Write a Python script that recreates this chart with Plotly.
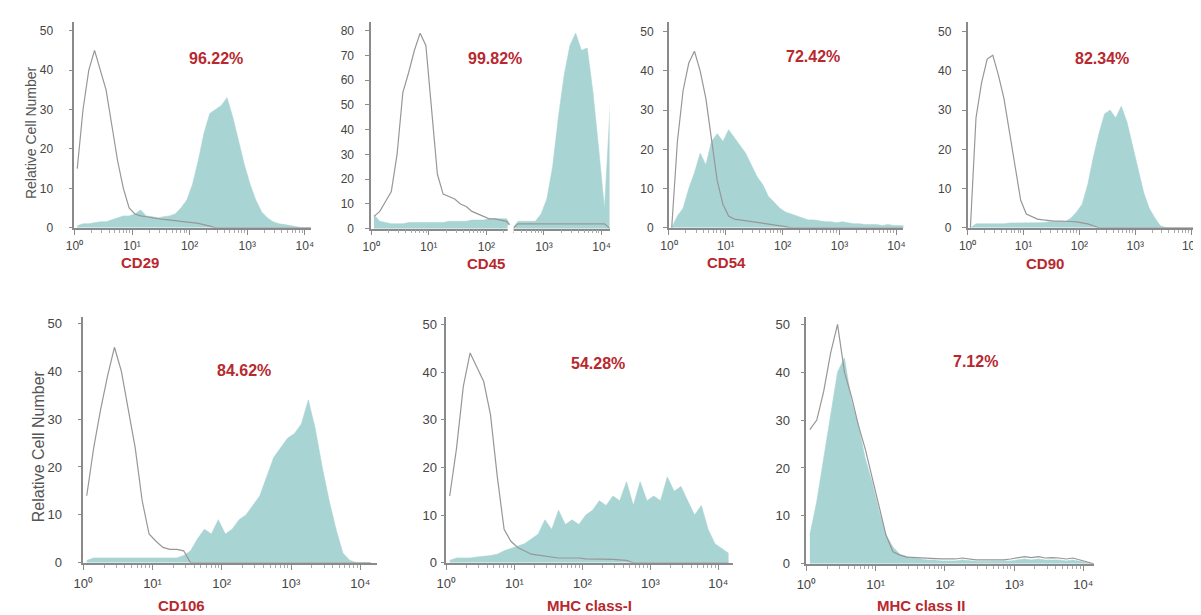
import plotly.graph_objects as go

# ---------------- data (log10 fluorescence bin centres, relative cell number) ----------------
log_bins = [0.05, 0.15, 0.25, 0.35, 0.45, 0.55, 0.65, 0.75, 0.85, 0.95,
            1.05, 1.15, 1.25, 1.35, 1.45, 1.55, 1.65, 1.75, 1.85, 1.95,
            2.05, 2.15, 2.25, 2.35, 2.45, 2.55, 2.65, 2.75, 2.85, 2.95,
            3.05, 3.15, 3.25, 3.35, 3.45, 3.55, 3.65, 3.75, 3.85, 3.95,
            4.05, 4.15]

tick_vals = [1, 10, 100, 1000, 10000]
tick_text = ["10⁰", "10¹", "10²", "10³", "10⁴"]

markers = ["CD29", "CD45", "CD54", "CD90", "CD106", "MHC class-I", "MHC class II"]
percent_positive = ["96.22%", "99.82%", "72.42%", "82.34%", "84.62%", "54.28%", "7.12%"]

cd29_iso = [15, 30, 40, 45, 40, 35, 26, 17, 10, 5, 3.5, 3, 2.8, 2.5, 2.3, 2.1, 2, 1.8, 1.6, 1.5,
            1.3, 1.1, 0.8, 0.4, 0, 0, 0, 0, 0, 0, 0, 0, 0, 0, 0, 0, 0, 0, 0, 0, 0, 0]
cd29_stain = [0.5, 1, 1, 1.2, 1.5, 1.5, 2, 2.5, 3, 3, 3.5, 4.5, 3, 2.8, 2.5, 2.8, 3, 3.5, 5, 7,
              11, 17, 24, 29, 30, 31, 33, 28, 22, 16, 11, 7, 4, 2.5, 1.5, 1, 0.8, 0.5, 0.3, 0, 0, 0]

cd45_iso = [5, 7, 11, 15, 30, 55, 63, 72, 79, 74, 48, 22, 14, 13, 12, 10, 9, 7, 6, 5,
            4, 4, 3.5, 3, 0, 2, 2, 2, 2, 2, 2, 2, 2, 2, 2, 2, 2, 2, 2, 2, 2, 0]
cd45_stain = [5.5, 3, 2.5, 2, 2, 2, 2.5, 2.5, 2.5, 2.5, 2.5, 2.5, 2.5, 3, 3, 3, 3, 3.5, 3.5, 3.5,
              4, 4, 4, 4, 0, 3, 3, 3, 3, 6, 12, 25, 45, 62, 74, 79, 72, 73, 55, 32, 8, 50]

cd54_iso = [0, 22, 35, 42, 45, 40, 33, 22, 12, 6, 3, 2.2, 2, 1.8, 1.5, 1.3, 1.2, 1, 0.7, 0.5,
            0.3, 0, 0, 0, 0, 0, 0, 0, 0, 0, 0, 0, 0, 0, 0, 0, 0, 0, 0, 0, 0, 0]
cd54_stain = [0, 3, 5, 10, 14, 19, 16, 22, 24, 22, 25, 23, 21, 19, 16, 13, 11, 8, 6.5, 5,
              4, 3.5, 3, 2.5, 2, 2, 1.8, 1.5, 1.5, 1.3, 1.5, 1.2, 1, 1, 0.8, 0.8, 0.8, 0.6, 0.8, 0.6,
              0.5, 0.5]

cd90_iso = [0, 28, 37, 43, 44, 39, 33, 24, 15, 7, 3.5, 2.8, 2.2, 2, 1.8, 1.7, 1.7, 1.7, 1.6, 1.5,
            1.3, 1, 0.5, 0, 0, 0, 0, 0, 0, 0, 0, 0, 0, 0, 0, 0, 0, 0, 0, 0, 0, 0]
cd90_stain = [0, 1, 1, 1, 1, 1, 1, 1.2, 1.2, 1.2, 1.2, 1.3, 1.3, 1.3, 1.5, 1.5, 1.5, 1.5, 2.5, 4,
              6, 11, 18, 24, 29, 30, 28, 31, 27, 21, 15, 9, 5, 2.5, 0.5, 0, 0, 0, 0, 0, 0, 0]

cd106_iso = [14, 24, 32, 39, 45, 40, 32, 24, 13, 6, 4.5, 3.2, 2.8, 2.8, 2.5, 0, 0, 0, 0, 0,
             0, 0, 0, 0, 0, 0, 0, 0, 0, 0, 0, 0, 0, 0, 0, 0, 0, 0, 0, 0, 0, 0]
cd106_stain = [0.5, 1, 1, 1, 1, 1, 1, 1, 1, 1, 1, 1, 1, 1, 1.5, 2.5, 5, 7, 6, 9,
               6, 7, 9, 10, 12, 14, 18, 22, 24, 26, 27, 29, 34, 28, 20, 13, 7, 2, 0.5, 0, 0, 0]

mhc1_iso = [14, 24, 37, 44, 41, 38, 31, 18, 7, 4.5, 3.2, 2.5, 1.8, 1.6, 1.4, 1.2, 1, 1, 1, 1,
            0.8, 0.8, 0.7, 0.7, 0.7, 0.6, 0.5, 0, 0, 0, 0, 0, 0, 0, 0, 0, 0, 0, 0, 0, 0, 0]
mhc1_stain = [0.5, 1, 1, 1, 1.2, 1.3, 1.5, 1.8, 2.5, 3, 3.5, 4, 5, 6, 9, 7, 11, 8, 9, 8,
              10, 11, 13, 12, 14, 13, 17, 12, 17, 13, 14, 13, 18, 15, 16, 13, 10, 12, 7, 4, 3, 2]

mhc2_iso = [28, 30, 36, 44, 50, 40, 35, 29, 24, 18, 12, 6, 2.5, 1.8, 1.4, 1.3, 1.2, 1.1, 1, 1,
            1, 1, 1.2, 1, 0.8, 0.8, 0.8, 0.8, 0.8, 1, 1.2, 1.5, 1.3, 1.5, 1.2, 1.3, 1.2, 1, 1.2, 0.8,
            0.5, 0]
mhc2_stain = [6, 13, 22, 31, 40, 43, 34, 29, 22, 17, 11, 6, 3.5, 2, 1.5, 1.2, 1, 0.8, 0.8, 0.6,
              0.6, 0.6, 0.8, 0.6, 0.5, 0.5, 0.5, 0.5, 0.5, 0.6, 0.8, 1, 0.8, 1, 0.8, 0.8, 0.8, 0.6, 0.8, 0.5,
              0.3, 0]

isotype_series = [cd29_iso, cd45_iso, cd54_iso, cd90_iso, cd106_iso, mhc1_iso, mhc2_iso]
stained_series = [cd29_stain, cd45_stain, cd54_stain, cd90_stain, cd106_stain, mhc1_stain, mhc2_stain]
y_tick_max = [50, 80, 50, 50, 50, 50, 50]

# ---------------- layout (pixel geometry of each panel) ----------------
W, H = 1201, 615
panels = [
    dict(xl=57, xr=296, dec=58.25, yb=222, ytick=22, yt=13, lab=(123, 257), pct=(200, 50), fs=12, ysd=13, xsd=1),
    dict(xl=357, xr=598, dec=58.25, yb=223, ytick=22, yt=13, lab=(473, 258), pct=(482, 50), fs=12, ysd=9, xsd=1),
    dict(xl=658, xr=895, dec=57.5, yb=222, ytick=23, yt=13, lab=(716, 257), pct=(804, 48), fs=12, ysd=7, xsd=1),
    dict(xl=960, xr=1200, dec=56.5, yb=222, ytick=23, yt=13, lab=(1038, 258), pct=(1096, 50), fs=12, ysd=8, xsd=1),
    dict(xl=66, xr=363, dec=70, yb=562, ytick=319, yt=313, lab=(165, 605), pct=(228, 367), fs=13, ysd=13, xsd=3),
    dict(xl=433, xr=723, dec=68.75, yb=562, ytick=320, yt=313, lab=(578, 605), pct=(586, 360), fs=13, ysd=1, xsd=3),
    dict(xl=797, xr=1088, dec=70, yb=563, ytick=320, yt=313, lab=(913, 605), pct=(968, 358), fs=13, ysd=8, xsd=3),
]
minor_ticks = [k * 10 ** e for e in range(4) for k in range(2, 10)]

TEAL = "#a9d4d4"
GRAY = "#979797"
AXIS = "#8a8a8a"
RED = "#b8282e"
FONT = "Liberation Sans"

fig = go.Figure()
layout = dict(width=W, height=H, margin=dict(l=0, r=0, t=0, b=0),
              paper_bgcolor="white", plot_bgcolor="white", showlegend=False,
              font=dict(family=FONT, color="#444"))
annotations = []

for i, p in enumerate(panels):
    n = "" if i == 0 else str(i + 1)
    xs = [10 ** b for b in log_bins]
    fig.add_trace(go.Scatter(x=xs, y=stained_series[i], mode="lines",
                             line=dict(shape="linear", width=0.6, color=TEAL),
                             fill="tozeroy", fillcolor=TEAL,
                             xaxis="x" + n, yaxis="y" + n, hoverinfo="skip"))
    fig.add_trace(go.Scatter(x=xs, y=isotype_series[i], mode="lines",
                             line=dict(shape="linear", width=1.2, color=GRAY),
                             xaxis="x" + n, yaxis="y" + n, hoverinfo="skip"))
    ppu = (p["yb"] - p["ytick"]) / y_tick_max[i]
    layout["xaxis" + n] = dict(
        domain=[p["xl"] / W, p["xr"] / W], anchor="y" + n, type="log",
        range=[0, (p["xr"] - p["xl"]) / p["dec"]],
        tickmode="array", tickvals=tick_vals, ticktext=tick_text,
        showline=True, linecolor=AXIS, linewidth=1.5, mirror=False,
        ticks="outside", ticklen=5, tickcolor=AXIS, tickwidth=1,
        minor=dict(ticks="outside", ticklen=3, tickcolor="#aaaaaa", tickmode="array",
                   tickvals=minor_ticks, showgrid=False),
        showgrid=False, zeroline=False, ticklabelstandoff=p["xsd"],
        tickfont=dict(family=FONT, size=p["fs"], color="#444"),
    )
    layout["yaxis" + n] = dict(
        domain=[1 - p["yb"] / H, 1 - p["yt"] / H], anchor="x" + n,
        range=[0, (p["yb"] - p["yt"]) / ppu],
        tickmode="array", tickvals=list(range(0, y_tick_max[i] + 1, 10)),
        showline=True, linecolor=AXIS, linewidth=1.5,
        ticks="outside", ticklen=4, tickcolor=AXIS,
        showgrid=False, zeroline=False, ticklabelstandoff=p["ysd"],
        tickfont=dict(family=FONT, size=p["fs"], color="#444"),
    )
    annotations.append(dict(text="<b>%s</b>" % markers[i], x=p["lab"][0] / W, y=1 - p["lab"][1] / H,
                            xref="paper", yref="paper", showarrow=False,
                            xanchor="center", yanchor="middle",
                            font=dict(family=FONT, size=15, color=RED)))
    annotations.append(dict(text="<b>%s</b>" % percent_positive[i], x=p["pct"][0] / W, y=1 - p["pct"][1] / H,
                            xref="paper", yref="paper", showarrow=False,
                            xanchor="center", yanchor="middle",
                            font=dict(family=FONT, size=16, color=RED)))

annotations.append(dict(text="Relative Cell Number", x=13 / W, y=1 - 125 / H, xref="paper", yref="paper",
                        showarrow=False, textangle=-90, xanchor="center", yanchor="middle",
                        font=dict(family=FONT, size=14, color="#555")))
annotations.append(dict(text="Relative Cell Number", x=21 / W, y=1 - 444 / H, xref="paper", yref="paper",
                        showarrow=False, textangle=-90, xanchor="center", yanchor="middle",
                        font=dict(family=FONT, size=16, color="#555")))

layout["annotations"] = annotations
# small break in the CD45 x-axis line (the two halves of the original scan)
layout["shapes"] = [dict(type="rect", xref="paper", yref="paper", x0=495 / W, x1=501 / W,
                         y0=1 - 227 / H, y1=1 - 219 / H, fillcolor="white", line=dict(width=0),
                         layer="above")]
fig.update_layout(**layout)
fig.write_html("out.html")
